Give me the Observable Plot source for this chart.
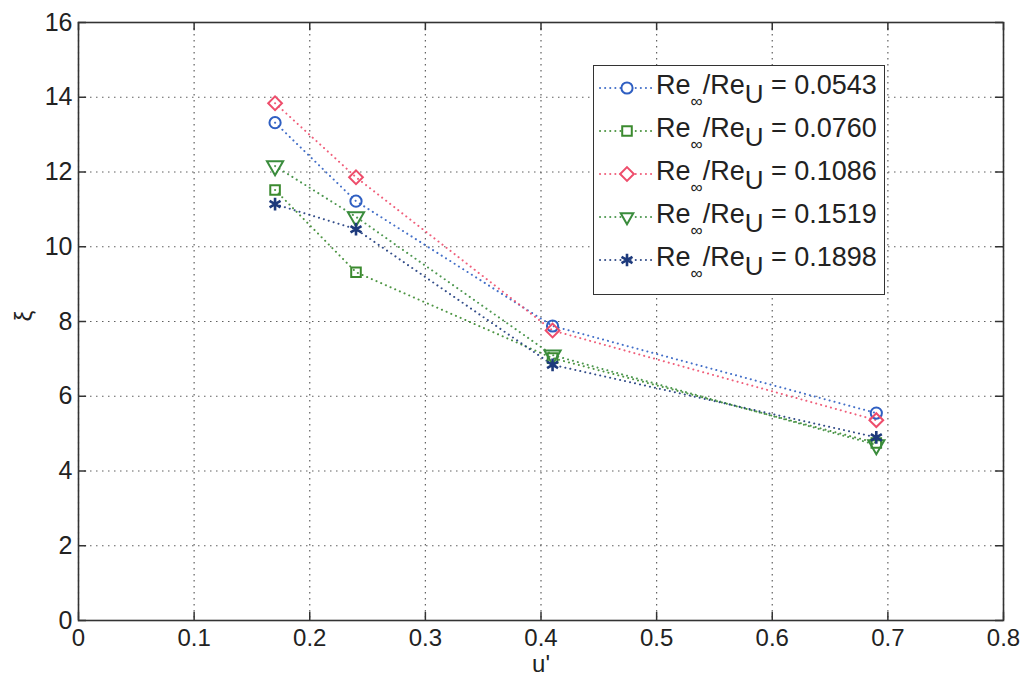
<!DOCTYPE html>
<html>
<head>
<meta charset="utf-8">
<script src="https://cdn.jsdelivr.net/npm/d3@7"></script>
<script src="https://cdn.jsdelivr.net/npm/@observablehq/plot@0.6"></script>
<style>
  body { margin: 0; background: white; }
  #wrap { position: relative; width: 1027px; height: 681px; font-family: "Liberation Sans", Arial, sans-serif; }
  #legend { position: absolute; left: 593px; top: 65px; width: 292px; height: 230px; border: 1.5px solid #333; background: white; box-sizing: border-box; padding-top: 0px; }
  .row { display: flex; align-items: center; height: 43px; }
  .row svg { flex: none; }
  .lbl { font-size: 27px; color: #222; white-space: nowrap; margin-left: 0px; line-height: 1; position: relative; top: -2px; }
  .inf { font-size: 17px; position: relative; top: 13px; }
  .u { font-size: 26px; position: relative; top: 9px; }
</style>
</head>
<body>
<div id="wrap"></div>
<script>
// ---- data ----
const xVals = [0.17, 0.24, 0.41, 0.69];
const ratioLabels = ["0.0543", "0.0760", "0.1086", "0.1519", "0.1898"];
const s0543 = [13.32, 11.22, 7.88, 5.55];
const s0760 = [11.52, 9.32, 7.02, 4.75];
const s1086 = [13.84, 11.86, 7.76, 5.36];
const s1519 = [12.16, 10.80, 7.10, 4.70];
const s1898 = [11.14, 10.47, 6.84, 4.90];
const xTicks = [0, 0.1, 0.2, 0.3, 0.4, 0.5, 0.6, 0.7, 0.8];
const xTickLabels = ["0", "0.1", "0.2", "0.3", "0.4", "0.5", "0.6", "0.7", "0.8"];
const yTicks = [0, 2, 4, 6, 8, 10, 12, 14, 16];
const yTickLabels = ["0", "2", "4", "6", "8", "10", "12", "14", "16"];

// ---- styling per series ----
const seriesValues = [s0543, s0760, s1086, s1519, s1898];
const colors = ["#2f5fc2", "#3b8a2f", "#ee4d6b", "#3a8c3c", "#1d3a7c"];
const symbols = ["circle", "square", "diamond2", "triangle", "asterisk"];
const rotations = [0, 0, 0, 180, 0];
const radii = [5.6, 5.4, 6.2, 6.0, 6.0];

const rows = [];
seriesValues.forEach((vals, s) => {
  vals.forEach((v, i) => rows.push({series: s, x: xVals[i], y: v}));
});

const marks = [
  Plot.gridX(xTicks, {stroke: "#444", strokeOpacity: 0.85, strokeDasharray: "1.5,4.5", strokeWidth: 1.2}),
  Plot.gridY(yTicks, {stroke: "#444", strokeOpacity: 0.85, strokeDasharray: "1.5,4.5", strokeWidth: 1.2}),
  Plot.ruleX(xTicks, {y1: 0, y2: 0.22, stroke: "#333", strokeWidth: 1.5}),
  Plot.ruleX(xTicks, {y1: 16, y2: 15.78, stroke: "#333", strokeWidth: 1.5}),
  Plot.ruleY(yTicks, {x1: 0, x2: 0.007, stroke: "#333", strokeWidth: 1.5}),
  Plot.ruleY(yTicks, {x1: 0.8, x2: 0.793, stroke: "#333", strokeWidth: 1.5}),
  Plot.frame({stroke: "#333", strokeWidth: 1.6}),
  Plot.axisX(xTicks, {tickSize: 0, tickPadding: 8, tickFormat: (d, i) => xTickLabels[i], fontSize: 24, fill: "#222", label: null}),
  Plot.axisY(yTicks, {tickSize: 0, tickPadding: 6, tickFormat: (d, i) => yTickLabels[i], fontSize: 25, fill: "#222", label: null}),
  Plot.text(["u'"], {frameAnchor: "bottom", lineAnchor: "middle", dy: 44, fontSize: 24, fill: "#222"}),
  Plot.text(["ξ"], {frameAnchor: "left", lineAnchor: "middle", dx: -54, rotate: -90, fontSize: 24, fill: "#222"})
];
seriesValues.forEach((vals, s) => {
  const d = rows.filter(r => r.series === s);
  marks.push(Plot.line(d, {x: "x", y: "y", stroke: colors[s], strokeWidth: 2, strokeDasharray: "0.1,5", strokeLinecap: "round", strokeOpacity: 0.9}));
});
seriesValues.forEach((vals, s) => {
  const d = rows.filter(r => r.series === s);
  marks.push(Plot.dot(d, {x: "x", y: "y", symbol: symbols[s], r: radii[s], rotate: rotations[s], stroke: colors[s], strokeWidth: s === 4 ? 2.6 : 2, fill: "none"}));
});

const chart = Plot.plot({
  width: 1027,
  height: 681,
  marginLeft: 78,
  marginRight: 24,
  marginTop: 22,
  marginBottom: 61,
  x: {domain: [0, 0.8]},
  y: {domain: [0, 16]},
  style: {fontFamily: "Liberation Sans, Arial, sans-serif", background: "white", color: "#222"},
  marks
});
const wrap = document.getElementById("wrap");
wrap.appendChild(chart);

// ---- legend ----
const legend = document.createElement("div");
legend.id = "legend";
const symbolMap = {circle: d3.symbolCircle, square: d3.symbolSquare, diamond2: d3.symbolDiamond2, triangle: d3.symbolTriangle2, asterisk: d3.symbolAsterisk};
ratioLabels.forEach((lab, s) => {
  const row = document.createElement("div");
  row.className = "row";
  const size = Math.PI * radii[s] * radii[s];
  const path = d3.symbol(symbolMap[symbols[s]], size)();
  row.innerHTML =
    `<svg width="62" height="30"><line x1="6" x2="60" y1="15" y2="15" stroke="${colors[s]}" stroke-width="2" stroke-dasharray="0.1,5" stroke-linecap="round" stroke-opacity="0.9"/>` +
    `<path d="${path}" transform="translate(33,15) rotate(${rotations[s]})" fill="white" stroke="${colors[s]}" stroke-width="${s === 4 ? 2.6 : 2}"/></svg>` +
    `<span class="lbl">Re<span class="inf">∞</span>/Re<span class="u">U</span> = ${lab}</span>`;
  legend.appendChild(row);
});
wrap.appendChild(legend);
</script>
</body>
</html>
